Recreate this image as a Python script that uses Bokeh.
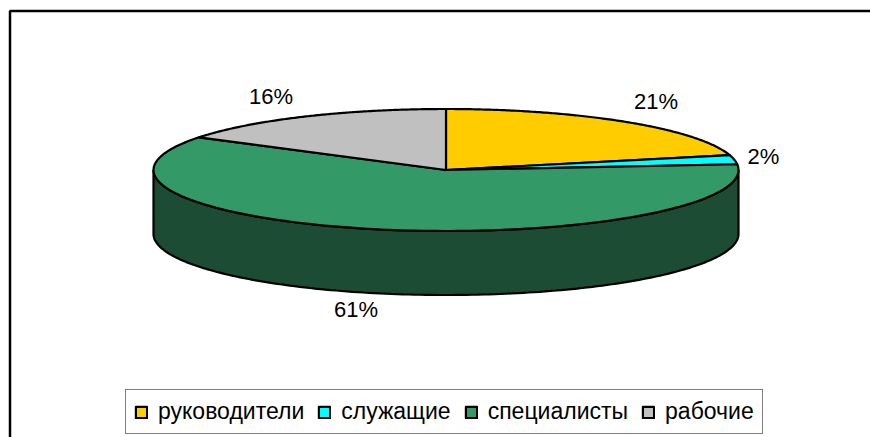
import numpy as np
from bokeh.embed import file_html
from bokeh.resources import INLINE
from bokeh.plotting import figure
from bokeh.models import Range1d, Legend, LegendItem
from bokeh.core.properties import value

categories = ["руководители", "служащие", "специалисты", "рабочие"]
shares = [21.1, 2.4, 60.5, 16.0]
share_labels = ["21%", "2%", "61%", "16%"]
colors = ["#FFCC00", "#00FFFF", "#339966", "#C0C0C0"]
WALL = "#1C4C33"
FONT = "Liberation Sans"

W, H = 870, 437
p = figure(width=W, height=H, output_backend="svg", toolbar_location=None,
           x_range=Range1d(0, W), y_range=Range1d(H, 0),
           min_border=0, outline_line_color=None, background_fill_color="white")
p.axis.visible = False
p.grid.visible = False

# pie geometry
cx, cy, rx, ry, depth = 445.5, 169.5, 292.5, 61, 64

def rim(a0, a1, n=160):
    t = np.radians(np.linspace(a0, a1, n))
    return cx + rx * np.sin(t), cy - ry * np.cos(t)

# side wall
wx, wy = rim(90, 270)
p.patch(np.r_[wx, wx[::-1]], np.r_[wy, wy[::-1] + depth],
        fill_color=WALL, line_color="black", line_width=2.2)

# top slices
edges = np.r_[0, np.cumsum(shares)] / sum(shares) * 360
renderers = []
for i, c in enumerate(colors):
    x, y = rim(edges[i], edges[i + 1])
    r = p.patch(np.r_[cx, x, cx], np.r_[cy, y, cy], fill_color=c,
                line_color="black", line_width=2.2, line_join="round")
    renderers.append(r)

# data labels
lab_x = [655.5, 763, 355.5, 270.5]
lab_y = [101, 155.5, 309, 96]
p.text(x=lab_x, y=lab_y, text=share_labels, text_font=value(FONT),
       text_font_size="22px", text_color="black",
       text_align="center", text_baseline="middle")

# left and top frame of the chart area
p.line(x=[9.5, 9.5, W], y=[H, 10.5, 10.5], line_color="black", line_width=2.5)

legend = Legend(
    items=[LegendItem(label=n, renderers=[r]) for n, r in zip(categories, renderers)],
    orientation="horizontal", location=(125, 3),
    label_text_font=FONT, label_text_font_size="23px", label_text_color="black",
    label_standoff=10, glyph_width=14, glyph_height=14, spacing=13,
    padding=8, margin=0, border_line_color="black", border_line_width=1.5,
    background_fill_alpha=1,
)
p.add_layout(legend, "center")

open("out.html", "w").write(file_html(p, INLINE))
